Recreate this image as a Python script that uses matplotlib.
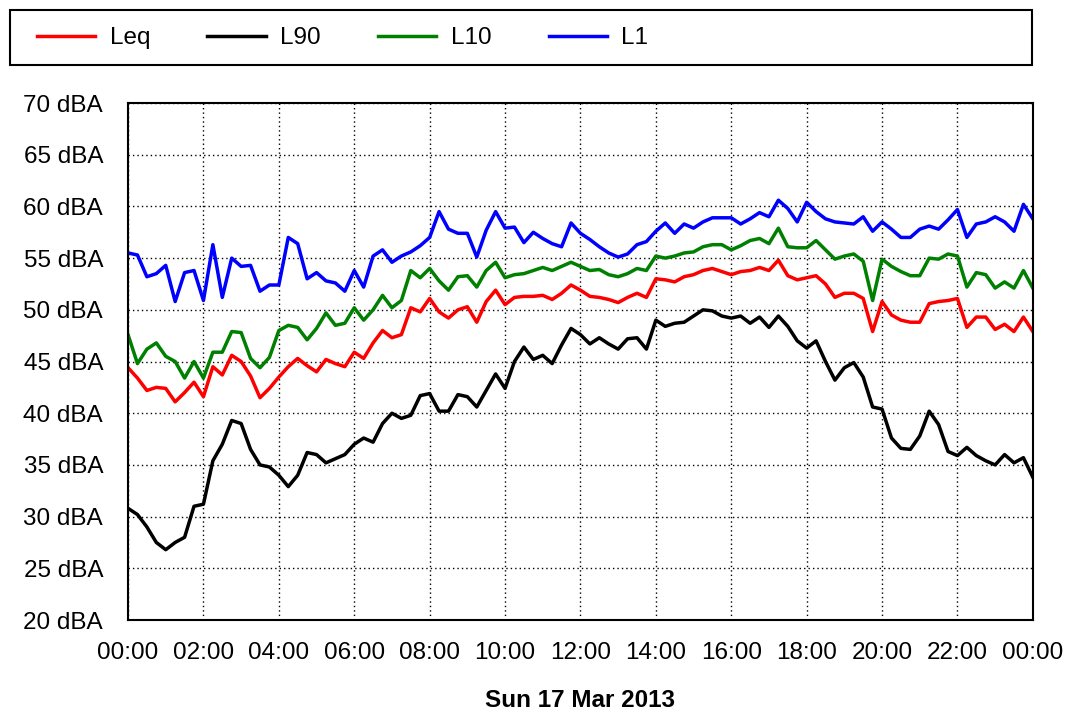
import matplotlib
matplotlib.use("Agg")
import matplotlib.pyplot as plt
import matplotlib.dates as mdates
from matplotlib.patches import Rectangle
import pandas as pd

plt.rcParams['font.family'] = ['Liberation Sans', 'DejaVu Sans']

# 15-minute readings, Sun 17 Mar 2013 00:00 -> Mon 18 Mar 00:00
times = pd.date_range("2013-03-17 00:00", periods=97, freq="15min")

leq = [44.4, 43.4, 42.2, 42.5, 42.4, 41.1, 42.0, 43.0, 41.6, 44.5,
       43.7, 45.6, 45.0, 43.6, 41.5, 42.4, 43.5, 44.5, 45.3, 44.6,
       44.0, 45.2, 44.8, 44.5, 45.9, 45.3, 46.8, 48.0, 47.3, 47.6,
       50.2, 49.8, 51.1, 49.8, 49.2, 50.0, 50.3, 48.8, 50.8, 51.9,
       50.5, 51.2, 51.3, 51.3, 51.4, 51.0, 51.6, 52.4, 51.9, 51.3,
       51.2, 51.0, 50.7, 51.2, 51.6, 51.2, 53.0, 52.9, 52.7, 53.2,
       53.4, 53.8, 54.0, 53.7, 53.4, 53.7, 53.8, 54.1, 53.8, 54.8,
       53.3, 52.9, 53.1, 53.3, 52.5, 51.2, 51.6, 51.6, 51.1, 47.9,
       50.8, 49.5, 49.0, 48.8, 48.8, 50.6, 50.8, 50.9, 51.1, 48.3,
       49.3, 49.3, 48.1, 48.6, 47.9, 49.3, 47.9]

l90 = [30.8, 30.2, 29.0, 27.5, 26.8, 27.5, 28.0, 31.0, 31.2, 35.4,
       37.0, 39.3, 39.0, 36.5, 35.0, 34.8, 34.0, 32.9, 34.0, 36.2,
       36.0, 35.2, 35.6, 36.0, 37.0, 37.6, 37.2, 39.0, 40.0, 39.5,
       39.8, 41.7, 41.9, 40.2, 40.2, 41.8, 41.6, 40.6, 42.2, 43.8,
       42.4, 45.0, 46.4, 45.2, 45.6, 44.8, 46.6, 48.2, 47.6, 46.7,
       47.3, 46.7, 46.2, 47.2, 47.3, 46.2, 49.0, 48.4, 48.7, 48.8,
       49.4, 50.0, 49.9, 49.4, 49.2, 49.4, 48.7, 49.3, 48.3, 49.4,
       48.4, 47.0, 46.3, 47.0, 45.0, 43.2, 44.4, 44.9, 43.5, 40.6,
       40.4, 37.6, 36.6, 36.5, 37.8, 40.2, 38.9, 36.3, 35.9, 36.7,
       35.9, 35.4, 35.0, 36.0, 35.2, 35.7, 33.8]

l10 = [47.6, 44.8, 46.2, 46.8, 45.5, 45.0, 43.4, 45.0, 43.4, 45.9,
       45.9, 47.9, 47.8, 45.3, 44.4, 45.4, 48.0, 48.5, 48.3, 47.1,
       48.2, 49.7, 48.5, 48.7, 50.2, 49.0, 50.0, 51.4, 50.2, 50.9,
       53.8, 53.1, 54.0, 52.8, 51.9, 53.2, 53.3, 52.2, 53.8, 54.6,
       53.1, 53.4, 53.5, 53.8, 54.1, 53.8, 54.2, 54.6, 54.2, 53.8,
       53.9, 53.4, 53.2, 53.5, 54.0, 53.8, 55.2, 55.0, 55.2, 55.5,
       55.6, 56.1, 56.3, 56.3, 55.8, 56.2, 56.7, 56.9, 56.4, 57.9,
       56.1, 56.0, 56.0, 56.7, 55.8, 54.9, 55.2, 55.4, 54.7, 50.9,
       54.9, 54.2, 53.7, 53.3, 53.3, 55.0, 54.9, 55.4, 55.2, 52.2,
       53.6, 53.4, 52.1, 52.7, 52.1, 53.8, 52.1]

l1 = [55.5, 55.3, 53.2, 53.5, 54.3, 50.8, 53.6, 53.8, 50.9, 56.3,
      51.2, 55.0, 54.2, 54.3, 51.8, 52.4, 52.4, 57.0, 56.4, 53.0,
      53.6, 52.8, 52.6, 51.8, 53.8, 52.2, 55.2, 55.8, 54.6, 55.2,
      55.6, 56.2, 57.0, 59.5, 57.8, 57.4, 57.4, 55.1, 57.7, 59.5,
      57.9, 58.0, 56.5, 57.5, 56.9, 56.4, 56.1, 58.4, 57.4, 56.8,
      56.1, 55.5, 55.1, 55.4, 56.3, 56.6, 57.6, 58.4, 57.4, 58.3,
      57.9, 58.5, 58.9, 58.9, 58.9, 58.3, 58.8, 59.4, 59.0, 60.6,
      59.8, 58.5, 60.4, 59.5, 58.8, 58.5, 58.4, 58.3, 59.0, 57.6,
      58.5, 57.8, 57.0, 57.0, 57.8, 58.1, 57.8, 58.7, 59.7, 57.0,
      58.3, 58.5, 59.0, 58.5, 57.6, 60.2, 58.8]

series = [("Leq", leq, "#ff0000"), ("L90", l90, "#000000"),
          ("L10", l10, "#008000"), ("L1", l1, "#0000ff")]

fig = plt.figure(figsize=(10.67, 7.12), dpi=100)
ax = fig.add_axes([0.12, 0.1292, 0.848, 0.7261])

for name, vals, col in series:
    ax.plot(times, vals, color=col, lw=2.5, label=name)

ax.set_xlim(pd.Timestamp("2013-03-17 00:00"), pd.Timestamp("2013-03-18 00:00"))
ax.set_ylim(20, 70)
ax.set_yticks(range(20, 71, 5))
ax.set_yticklabels([f"{v} dBA" for v in range(20, 71, 5)])
ax.xaxis.set_major_locator(mdates.HourLocator(interval=2))
ax.xaxis.set_major_formatter(mdates.DateFormatter("%H:%M"))
ax.grid(True, color="black", linestyle=(0, (1, 2.2)), linewidth=1.0)
ax.tick_params(axis="both", length=0, labelsize=17.5)
ax.tick_params(axis="y", pad=18)
ax.tick_params(axis="x", pad=16)
for s in ax.spines.values():
    s.set_linewidth(1.5)
ax.set_xlabel("Sun 17 Mar 2013", fontsize=17.5, fontweight="bold", labelpad=18)

# legend box across the top
fig.patches.append(Rectangle((10 / 1067, 1 - 65 / 712), 1022 / 1067, 55 / 712,
                             transform=fig.transFigure, fill=False,
                             edgecolor="black", linewidth=1.5))
fig.legend(loc="center left", bbox_to_anchor=(27 / 1067, 1 - 38 / 712),
           ncol=4, frameon=False, fontsize=17.5, handlelength=2.4,
           handletextpad=0.6, columnspacing=2.35, borderaxespad=0)

fig.savefig("out.png", dpi=100)
